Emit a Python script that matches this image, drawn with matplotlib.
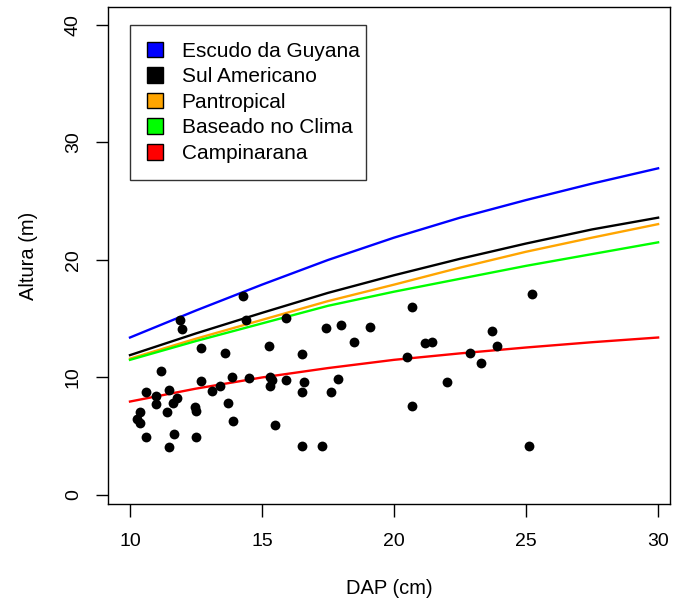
import matplotlib
matplotlib.use("Agg")
import matplotlib.pyplot as plt
from matplotlib.patches import Patch

plt.rcParams['font.family'] = ['Liberation Sans', 'DejaVu Sans']

# ---- data ----
dap = [14.29, 11.89, 11.97, 14.38, 12.68, 13.60, 15.28, 11.18, 12.69, 13.88,
       14.50, 15.30, 15.38, 15.30, 13.09, 13.39, 10.59, 10.98, 11.49, 11.79,
       11.62, 10.99, 11.39, 12.47, 12.50, 13.70, 10.38, 10.28, 10.38, 13.89,
       10.59, 11.68, 12.50, 11.49, 15.90, 17.41, 17.99, 19.10, 18.50, 16.50,
       15.91, 16.60, 16.50, 17.89, 17.60, 15.49, 16.50, 17.29, 20.69, 25.21,
       21.17, 21.43, 23.70, 23.89, 20.50, 22.88, 23.30, 22.02, 20.69, 25.10]
altura = [16.90, 14.90, 14.10, 14.85, 12.50, 12.10, 12.65, 10.55, 9.68, 10.07,
          9.93, 10.07, 9.80, 9.28, 8.87, 9.28, 8.75, 8.40, 8.94, 8.23,
          7.80, 7.70, 7.04, 7.45, 7.15, 7.83, 7.04, 6.44, 6.10, 6.26,
          4.96, 5.19, 4.96, 4.11, 15.10, 14.20, 14.47, 14.30, 13.03, 12.00,
          9.79, 9.64, 8.72, 9.90, 8.72, 5.98, 4.18, 4.18, 16.00, 17.08,
          12.90, 13.05, 13.96, 12.68, 11.70, 12.10, 11.22, 9.64, 7.57, 4.17]

curve_dap = [10, 12.5, 15, 17.5, 20, 22.5, 25, 27.5, 30]
h_escudo = [13.4, 15.7, 17.9, 20.0, 21.9, 23.6, 25.1, 26.5, 27.8]
h_sulamer = [11.9, 13.75, 15.5, 17.2, 18.7, 20.1, 21.4, 22.6, 23.6]
h_pantrop = [11.6, 13.3, 14.9, 16.5, 17.9, 19.35, 20.7, 21.9, 23.05]
h_clima = [11.5, 13.1, 14.6, 16.1, 17.3, 18.4, 19.5, 20.5, 21.5]
h_campin = [7.95, 9.05, 10.0, 10.8, 11.5, 12.05, 12.55, 13.0, 13.4]

series_names = ["Escudo da Guyana", "Sul Americano", "Pantropical",
                "Baseado no Clima", "Campinarana"]
series_colors = ["#0000ff", "#000000", "#ffa500", "#00ff00", "#ff0000"]
series_values = [h_escudo, h_sulamer, h_pantrop, h_clima, h_campin]

xticks = [10, 15, 20, 25, 30]
yticks = [0, 10, 20, 30, 40]

# ---- figure ----
W, H = 673, 604
fig = plt.figure(figsize=(W / 100, H / 100), dpi=100)
L, R, T, B = 108, 670, 7, 504
ax = fig.add_axes([L / W, 1 - B / H, (R - L) / W, (B - T) / H])

ax.scatter(dap, altura, s=50, color='black', zorder=3, linewidths=0)
for vals, col in zip(series_values, series_colors):
    ax.plot(curve_dap, vals, color=col, lw=1.7, zorder=2)

ax.set_xlim(9.167, 30.45)
ax.set_ylim(-0.77, 41.53)
ax.set_xticks(xticks)
ax.set_yticks(yticks)
ax.tick_params(axis='both', direction='out', length=9, width=1.0,
               labelsize=14, colors='black')
ax.tick_params(axis='x', pad=12)
ax.tick_params(axis='y', pad=16)
for lab in ax.get_yticklabels():
    lab.set_rotation(90)
    lab.set_va('center')
    lab.set_ha('center')
    lab.set_rotation_mode('anchor')
for sp in ax.spines.values():
    sp.set_linewidth(1.0)

ax.set_xlabel("DAP (cm)", fontsize=14.5)
ax.set_ylabel("Altura (m)", fontsize=14.5)
ax.xaxis.set_label_coords(0.5, (B - 588) / (B - T))
ax.xaxis.label.set_va('center')
ax.yaxis.set_label_coords((28 - L) / (R - L), 0.5)
ax.yaxis.label.set_va('center')

handles = [Patch(facecolor=c, edgecolor='black', linewidth=1.0) for c in series_colors]
lx0 = (130 - L) / (R - L)
ly1 = 1 - (25 - T) / (B - T)
lw_ = (366 - 130) / (R - L)
lh_ = (177 - 25) / (B - T)
leg = ax.legend(handles, series_names, loc='upper left',
                bbox_to_anchor=(lx0, ly1 - lh_, lw_, lh_), mode='expand',
                borderaxespad=0, fontsize=15, frameon=True, fancybox=False,
                handlelength=0.78, handleheight=0.78, handletextpad=0.9,
                borderpad=0.8, labelspacing=0.31)
leg.get_frame().set_edgecolor('black')
leg.get_frame().set_linewidth(1.0)

fig.savefig("out.png", dpi=100)
